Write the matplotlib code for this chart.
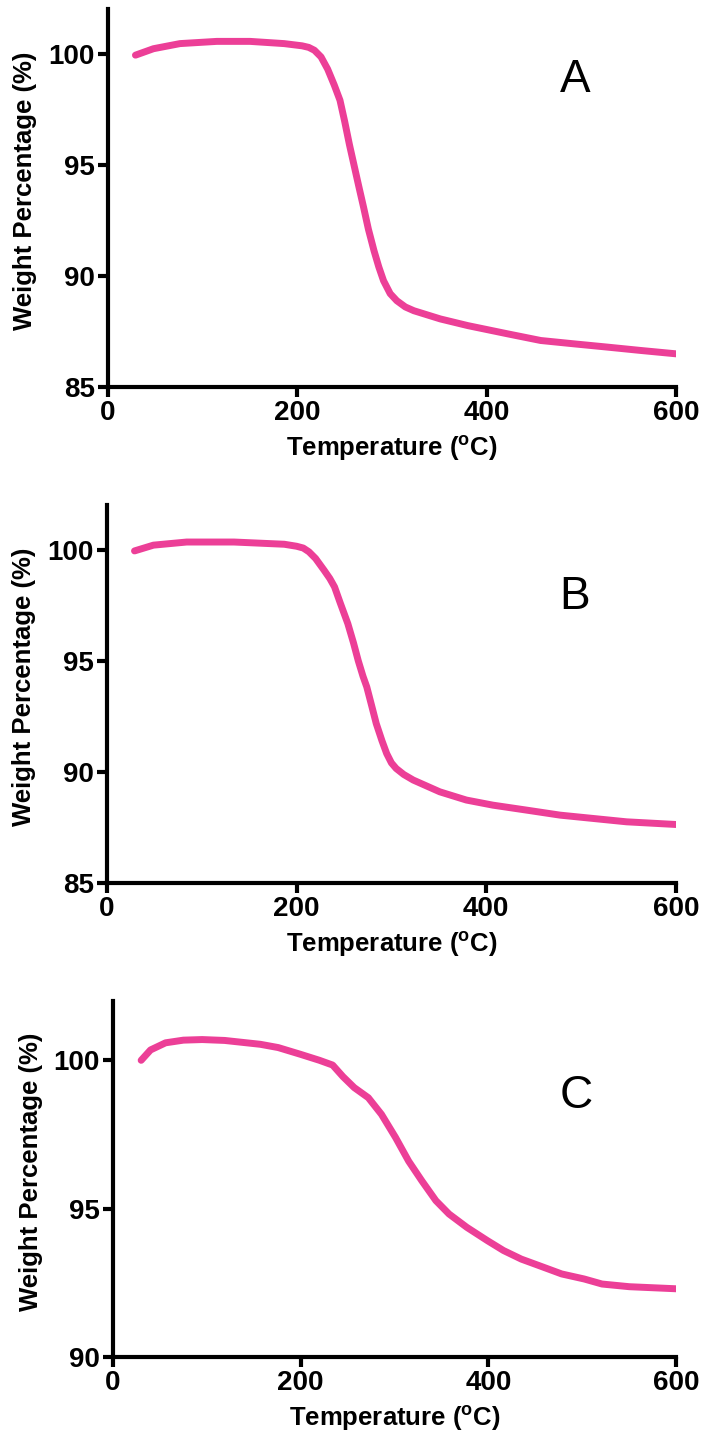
import numpy as np
import matplotlib
matplotlib.use("Agg")
import matplotlib.pyplot as plt

plt.rcParams['font.family'] = ['Liberation Sans', 'DejaVu Sans']
plt.rcParams['mathtext.fontset'] = 'custom'
plt.rcParams['mathtext.rm'] = 'Liberation Sans'
plt.rcParams['mathtext.bf'] = 'Liberation Sans:bold'

# Daten
tA = [29, 48, 76, 115, 150, 186, 205, 212, 218, 225, 232, 239, 245, 250, 255,
      260, 265, 270, 275, 281, 286, 291, 298, 305, 314, 323, 351, 380, 422, 457,
      492, 528, 563, 600]
wA = [99.93, 100.22, 100.45, 100.55, 100.55, 100.45, 100.35, 100.28, 100.15, 99.85,
      99.3, 98.58, 97.9, 96.94, 95.9, 94.95, 94.0, 93.07, 92.1, 91.12, 90.4, 89.78,
      89.2, 88.88, 88.6, 88.43, 88.06, 87.76, 87.39, 87.09, 86.94, 86.79, 86.64, 86.49]

tB = [29, 49, 84, 134, 187, 200, 207, 213, 220, 229, 235, 240, 246, 254, 260,
      265, 270, 274, 279, 284, 290, 295, 300, 305, 313, 323, 351, 379, 407, 442,
      478, 513, 548, 600]
wB = [99.94, 100.2, 100.34, 100.34, 100.24, 100.15, 100.07, 99.9, 99.6, 99.07,
      98.7, 98.32, 97.6, 96.67, 95.8, 95.0, 94.3, 93.82, 93.0, 92.17, 91.4, 90.82,
      90.4, 90.15, 89.88, 89.63, 89.1, 88.73, 88.5, 88.28, 88.05, 87.9, 87.75, 87.63]

tC = [30, 40, 56, 75, 95, 119, 157, 176, 200, 220, 234, 245, 257, 272, 286, 301,
      315, 329, 344, 358, 377, 399, 416, 435, 454, 478, 502, 521, 550, 600]
wC = [100.0, 100.35, 100.59, 100.68, 100.7, 100.67, 100.54, 100.43, 100.2, 100.0,
      99.84, 99.45, 99.08, 98.74, 98.18, 97.4, 96.6, 95.94, 95.27, 94.82, 94.37,
      93.92, 93.59, 93.3, 93.08, 92.8, 92.63, 92.46, 92.37, 92.3]

panels = [
    (tA, wA, "A", (85, 102), [85, 90, 95, 100], [0.1534, 0.7296, 0.807, 0.264], 98.8),
    (tB, wB, "B", (85, 102), [85, 90, 95, 100], [0.1520, 0.383, 0.808, 0.264], 97.85),
    (tC, wC, "C", (90, 102), [90, 95, 100], [0.1605, 0.0517, 0.800, 0.2488], 98.8),
]

fig = plt.figure(figsize=(7.04, 14.31), dpi=100)

for t, w, name, ylim, yt, rect, ypos in panels:
    ax = fig.add_axes(rect)
    ax.plot(t, w, color='#EC3F97', lw=5, solid_capstyle='round', solid_joinstyle='round')
    ax.set_xlim(0, 600)
    ax.set_ylim(*ylim)
    ax.set_xticks([0, 200, 400, 600])
    ax.set_yticks(yt)
    for s in ['top', 'right']:
        ax.spines[s].set_visible(False)
    for s in ['left', 'bottom']:
        ax.spines[s].set_linewidth(3)
    ax.tick_params(width=3, length=7.5, labelsize=20, pad=2)
    for lab in ax.get_xticklabels() + ax.get_yticklabels():
        lab.set_fontweight('bold')
    ax.set_xlabel(r'Temperature ($^{\mathbf{o}}$C)', fontsize=18.5, fontweight='bold', labelpad=5)
    ax.set_ylabel('Weight Percentage (%)', fontsize=18.5, fontweight='bold')
    ax.yaxis.set_label_coords(-0.125, 0.52)
    ax.text(493, ypos, name, fontsize=33, ha='center', va='center')

plt.savefig("out.png", dpi=100)
